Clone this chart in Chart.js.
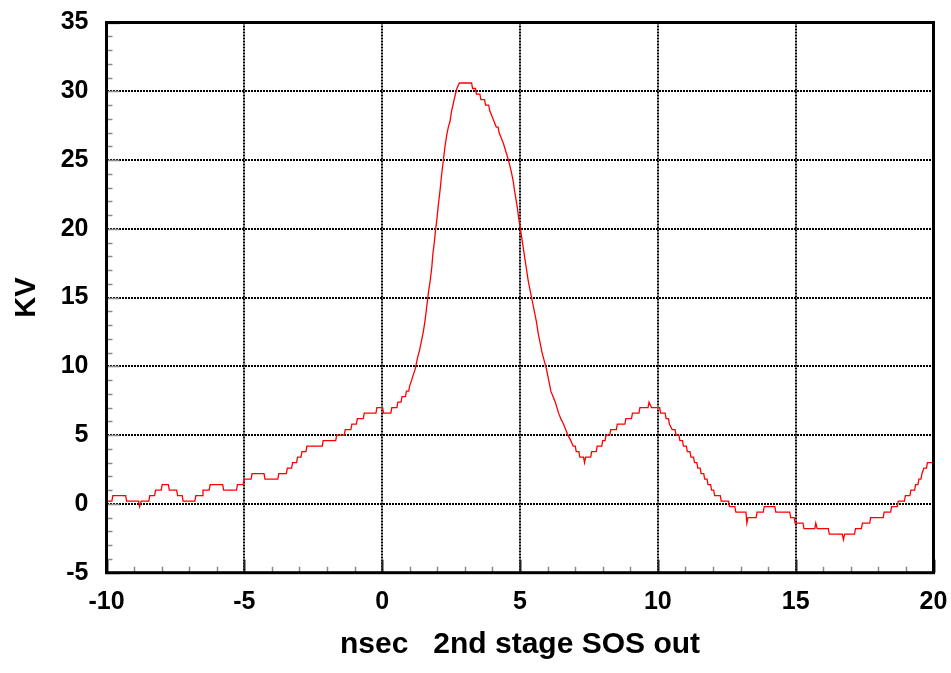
<!DOCTYPE html>
<html>
<head>
<meta charset="utf-8">
<title>2nd stage SOS out</title>
<script src="https://cdn.jsdelivr.net/npm/chart.js@4/dist/chart.umd.min.js"></script>
<style>
  html, body { margin: 0; padding: 0; background: #ffffff; }
  #c { display: block; }
</style>
</head>
<body>
<canvas id="c" width="951" height="673"></canvas>
<script>
// Digitised waveform: each kV level starts at its time and holds until the next entry.
const timeNs = [
  -10, -9.77, -9.27, -8.8, -8.74, -8.43, -8.22, -7.98, -7.72, -7.42,
  -7.22, -6.76, -6.5, -6.24, -5.75, -5.25, -5.01, -4.72, -4.25, -3.75,
  -3.44, -3.25, -3.07, -2.91, -2.73, -2.14, -1.65, -1.34, -1.1, -0.9,
  -0.65, -0.19, 0.05, 0.35, 0.57, 0.72, 0.88, 1.0, 1.07, 1.13,
  1.2, 1.28, 1.36, 1.44, 1.5, 1.56, 1.62, 1.68, 1.74, 1.8,
  1.84, 1.88, 1.93, 1.98, 2.04, 2.1, 2.16, 2.22, 2.28, 2.34,
  2.4, 2.46, 2.52, 2.57, 2.61, 2.66, 2.71, 2.8, 3.28, 3.42,
  3.58, 3.75, 3.9, 3.98, 4.06, 4.14, 4.24, 4.32, 4.4, 4.46,
  4.52, 4.58, 4.63, 4.68, 4.72, 4.76, 4.8, 4.85, 4.9, 4.95,
  5.0, 5.06, 5.12, 5.18, 5.24, 5.3, 5.36, 5.42, 5.48, 5.54,
  5.6, 5.66, 5.72, 5.8, 5.88, 5.96, 6.04, 6.12, 6.2, 6.28,
  6.34, 6.4, 6.48, 6.58, 6.66, 6.74, 6.84, 6.93, 7.04, 7.17,
  7.34, 7.38, 7.6, 7.8, 8.0, 8.12, 8.29, 8.53, 8.84, 9.08,
  9.35, 9.68, 9.77, 10.1, 10.3, 10.42, 10.52, 10.66, 10.8, 10.93,
  11.07, 11.2, 11.33, 11.45, 11.57, 11.7, 11.82, 11.95, 12.06, 12.3,
  12.6, 12.83, 13.23, 13.27, 13.6, 13.86, 14.28, 14.82, 14.98, 15.3,
  15.73, 15.78, 16.22, 16.73, 16.78, 17.17, 17.42, 17.72, 18.21, 18.48,
  18.72, 18.98, 19.18, 19.35, 19.47, 19.58, 19.65, 19.78, 20
];
const kv = [
  0.2, 0.6, 0.2, -0.2, 0.2, 0.6, 1.0, 1.4, 1.0, 0.6,
  0.2, 0.6, 1.0, 1.4, 1.0, 1.4, 1.8, 2.2, 1.8, 2.2,
  2.6, 3.0, 3.4, 3.8, 4.2, 4.6, 5.0, 5.4, 5.8, 6.2,
  6.6, 7.0, 6.6, 7.0, 7.4, 7.8, 8.2, 8.6, 9.0, 9.4,
  9.8, 10.6, 11.2, 12.0, 12.6, 13.4, 14.4, 15.4, 16.2, 17.2,
  18.2, 18.8, 19.8, 20.6, 21.8, 22.8, 24.0, 25.0, 26.0, 26.8,
  27.4, 27.8, 28.6, 29.0, 29.4, 29.8, 30.2, 30.6, 30.2, 29.8,
  29.4, 29.0, 28.6, 28.2, 27.8, 27.4, 27.0, 26.6, 26.2, 25.8,
  25.4, 25.0, 24.6, 24.2, 23.8, 23.4, 22.8, 22.2, 21.6, 20.8,
  20.2, 19.4, 18.6, 17.8, 17.0, 16.2, 15.6, 15.0, 14.4, 13.8,
  13.2, 12.4, 11.8, 11.0, 10.4, 9.8, 9.0, 8.2, 7.8, 7.4,
  7.0, 6.6, 6.2, 5.8, 5.4, 5.0, 4.6, 4.2, 3.8, 3.4,
  3.0, 3.4, 3.8, 4.2, 4.6, 5.0, 5.4, 5.8, 6.2, 6.6,
  7.0, 7.4, 7.0, 6.6, 6.2, 5.8, 5.4, 5.0, 4.6, 4.2,
  3.8, 3.4, 3.0, 2.6, 2.2, 1.8, 1.4, 1.0, 0.6, 0.2,
  -0.2, -0.6, -1.4, -1.0, -0.6, -0.2, -0.6, -1.0, -1.4, -1.8,
  -1.4, -1.8, -2.2, -2.6, -2.2, -1.8, -1.4, -1.0, -0.6, -0.2,
  0.2, 0.6, 1.0, 1.4, 1.8, 2.2, 2.6, 3.0, 3.0
];

// Axis ticks
const xTickValues = [-10, -5, 0, 5, 10, 15, 20];
const yTickValues = [-5, 0, 5, 10, 15, 20, 25, 30, 35];
const minorStep = 1;

// Digitiser transitions: a level held longer than HOLD_MIN keeps its value
// until RISE_NS before the next sample, then ramps to it.
const HOLD_MIN = 0.1;
const RISE_NS = 0.035;

function tracePoints() {
  const pts = [];
  for (let i = 0; i < timeNs.length; i++) {
    pts.push({ x: timeNs[i], y: kv[i] });
    if (i + 1 < timeNs.length && timeNs[i + 1] - timeNs[i] > HOLD_MIN && kv[i + 1] !== kv[i]) {
      pts.push({ x: timeNs[i + 1] - RISE_NS, y: kv[i] });
    }
  }
  return pts;
}

const FONT = '"Liberation Sans", Arial, Helvetica, sans-serif';

// Thick frame around the plot plus short inside tick marks on the left and bottom edges.
const framePlugin = {
  id: 'frame',
  beforeDatasetsDraw(chart) {
    const { ctx, chartArea: a, scales: { x, y } } = chart;
    ctx.save();
    ctx.lineCap = 'butt';
    for (let v = x.min; v <= x.max + 1e-9; v += minorStep) {
      const px = Math.round(x.getPixelForValue(v)) + 0.5;
      const major = xTickValues.includes(v);
      ctx.strokeStyle = major ? '#222222' : '#8a8a8a';
      ctx.lineWidth = major ? 2 : 1.5;
      ctx.beginPath();
      ctx.moveTo(px, a.bottom);
      ctx.lineTo(px, a.bottom - (major ? 13 : 6));
      ctx.stroke();
    }
    for (let v = y.min; v <= y.max + 1e-9; v += minorStep) {
      const py = Math.round(y.getPixelForValue(v)) + 0.5;
      const major = yTickValues.includes(v);
      ctx.strokeStyle = '#8a8a8a';
      ctx.lineWidth = 1.5;
      ctx.beginPath();
      ctx.moveTo(a.left, py);
      ctx.lineTo(a.left + (major ? 13 : 6), py);
      ctx.stroke();
    }
    ctx.restore();
  },
  afterDraw(chart) {
    const { ctx, chartArea: a } = chart;
    ctx.save();
    ctx.strokeStyle = '#000000';
    ctx.lineWidth = 3;
    ctx.strokeRect(a.left, a.top, a.right - a.left, a.bottom - a.top);
    ctx.restore();
  }
};

new Chart(document.getElementById('c'), {
  type: 'line',
  data: {
    datasets: [{
      data: tracePoints(),
      borderColor: '#ff0000',
      borderWidth: 1.3,
      pointRadius: 0,
      tension: 0,
      fill: false
    }]
  },
  options: {
    responsive: false,
    animation: false,
    devicePixelRatio: 1,
    layout: { padding: { top: 22.5, right: 17.5, bottom: 0, left: 0 } },
    plugins: {
      legend: { display: false },
      tooltip: { enabled: false }
    },
    scales: {
      x: {
        type: 'linear',
        min: -10,
        max: 20,
        afterBuildTicks(scale) { scale.ticks = xTickValues.map(v => ({ value: v })); },
        afterFit(scale) {
          scale.height = 100.3;
          scale.paddingLeft = 0;
          scale.paddingRight = 0;
        },
        grid: { color: '#000000', lineWidth: 2, drawTicks: false },
        border: { display: false, dash: [2, 1] },
        ticks: {
          color: '#000000',
          padding: 14,
          maxRotation: 0,
          font: { family: FONT, size: 25, weight: 'bold' }
        },
        title: {
          display: true,
          text: 'nsec   2nd stage SOS out',
          color: '#000000',
          padding: { top: 0, bottom: 10 },
          font: { family: FONT, size: 30, weight: 'bold' }
        }
      },
      y: {
        type: 'linear',
        min: -5,
        max: 35,
        afterBuildTicks(scale) { scale.ticks = yTickValues.map(v => ({ value: v })); },
        afterFit(scale) {
          scale.width = 106.5;
          scale.paddingTop = 0;
          scale.paddingBottom = 0;
        },
        grid: { color: '#000000', lineWidth: 2, drawTicks: false },
        border: { display: false, dash: [2, 1] },
        ticks: {
          color: '#000000',
          padding: 18,
          font: { family: FONT, size: 25, weight: 'bold' }
        },
        title: {
          display: true,
          text: 'KV',
          color: '#000000',
          padding: { top: 10, bottom: 0 },
          font: { family: FONT, size: 29, weight: 'bold' }
        }
      }
    }
  },
  plugins: [framePlugin]
});
</script>
</body>
</html>
